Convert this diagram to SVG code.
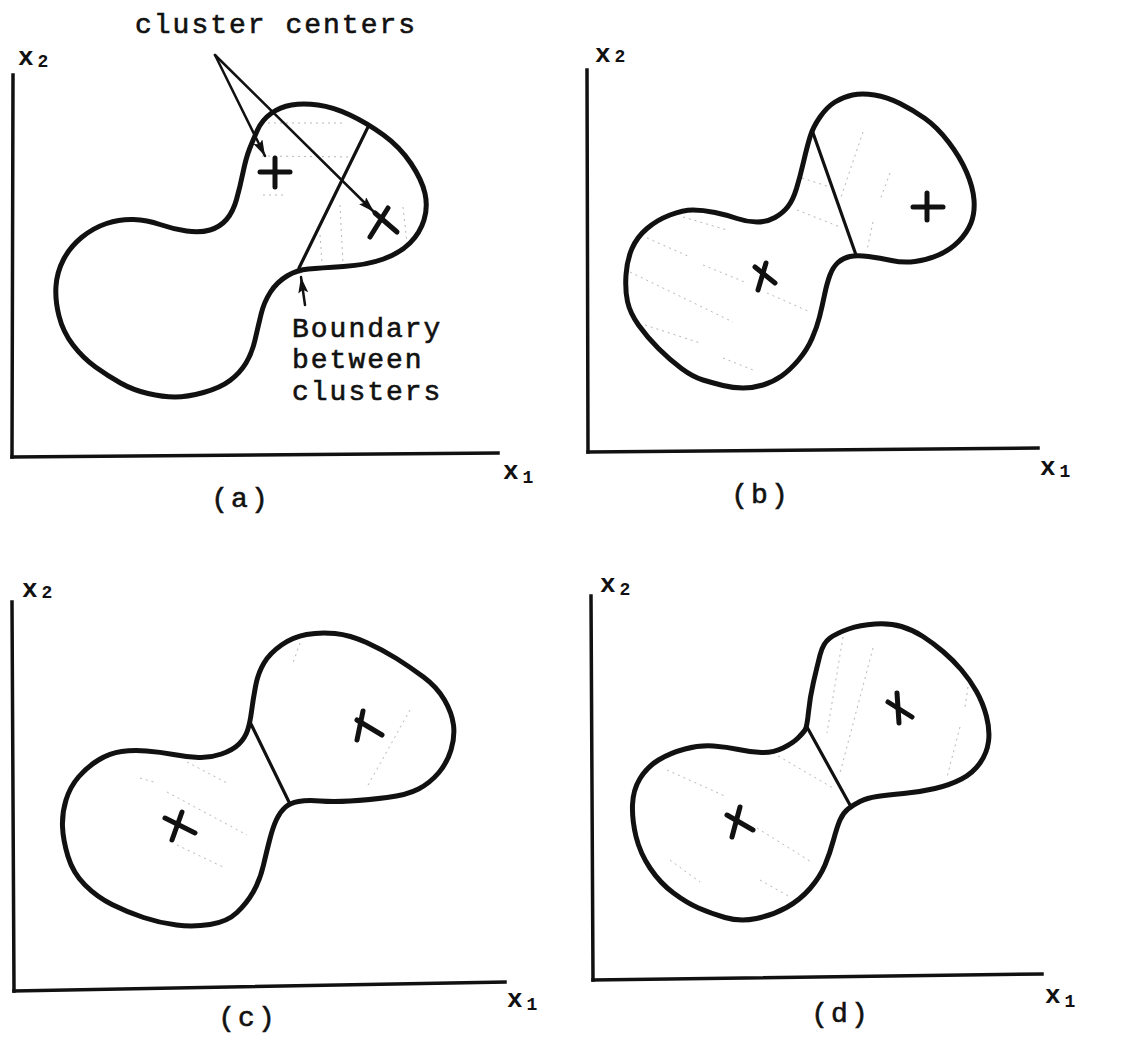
<svg xmlns="http://www.w3.org/2000/svg" width="1129" height="1037" viewBox="0 0 1129 1037">
<style>
  .bg{fill:#ffffff}
  .outline{fill:none;stroke:#111;stroke-width:5;stroke-linejoin:round;stroke-linecap:round}
  .axis{fill:none;stroke:#111;stroke-width:3.5;stroke-linecap:square}
  .bound{fill:none;stroke:#111;stroke-width:3.2;stroke-linecap:round}
  .mark{fill:none;stroke:#111;stroke-width:5;stroke-linecap:round}
  .hatch{fill:none;stroke:#9a9a9a;stroke-width:1;stroke-dasharray:2 4;opacity:0.7}
  .conn{fill:none;stroke:#111;stroke-width:2.5;stroke-linecap:round}
  .txt{font-family:"Liberation Mono","DejaVu Sans Mono",monospace;font-size:28px;letter-spacing:2px;fill:#111;stroke:#111;stroke-width:0.6}
  .ax{font-family:"Liberation Mono","DejaVu Sans Mono",monospace;font-size:26px;font-weight:bold;fill:#111}
  .sub{font-size:18px}
  .plabel{font-family:"Liberation Mono","DejaVu Sans Mono",monospace;font-size:28px;letter-spacing:3px;fill:#111;stroke:#111;stroke-width:0.6;text-anchor:middle}
</style>
<defs>
  <marker id="arr" markerUnits="userSpaceOnUse" markerWidth="18" markerHeight="12" refX="16" refY="5" orient="auto">
    <path d="M0,0 L16,5 L0,10 L3,5 Z" fill="#111"/>
  </marker>
</defs>
<rect class="bg" x="0" y="0" width="1129" height="1037"/>

<!-- Panel (a) -->
<g id="panel-a">
  <line class="axis" x1="13" y1="75" x2="12" y2="457"/>
  <line class="axis" x1="12" y1="457" x2="498" y2="453"/>
  <text class="ax" x="18" y="65">x<tspan class="sub" dx="4" dy="2">2</tspan></text>
  <text class="ax" x="503" y="479">x<tspan class="sub" dx="4" dy="4">1</tspan></text>
  <g class="hatch">
    <line x1="262" y1="123" x2="345" y2="123"/>
    <line x1="262" y1="156" x2="353" y2="157"/>
    <line x1="263" y1="195" x2="283" y2="195"/>
    <line x1="340" y1="205" x2="343" y2="263"/>
    <line x1="320" y1="235" x2="322" y2="263"/>
    <line x1="403" y1="207" x2="407" y2="243"/>
  </g>
  <path class="outline" d="M249.5,149 Q253,140 257.5,130 Q262,120 271,113.5 Q280,107 291.5,105 Q303,103 318,105 Q333,107 350,115 Q367,123 383.5,135 Q400,147 411,163.5 Q422,180 425,193.5 Q428,207 424,220 Q420,233 410,243 Q400,253 383.5,259 Q367,265 343.5,266.5 Q320,268 308.5,269 Q297,270 287,276 Q277,282 270.5,292 Q264,302 261,314.5 Q258,327 255,340 Q252,353 246,363 Q240,373 230,380.5 Q220,388 203.5,392.5 Q187,397 175,397 Q163,397 148,393.5 Q133,390 120.5,383 Q108,376 95.5,367 Q83,358 73,345 Q63,332 59,316 Q55,300 56,286 Q57,272 63.5,259.5 Q70,247 81.5,237.5 Q93,228 106.5,223.5 Q120,219 133.5,219.5 Q147,220 160,224.5 Q173,229 186.5,231 Q200,233 210,230 Q220,227 226.5,219.5 Q233,212 236.5,199.5 Q240,187 243,172.5 Q246,158 249.5,149 Z"/>
  <line class="bound" x1="368" y1="127" x2="299" y2="268"/>
  <line class="mark" x1="260" y1="172" x2="290" y2="172"/>
  <line class="mark" x1="275" y1="158" x2="275" y2="187"/>
  <line class="mark" x1="370" y1="237" x2="388" y2="208"/>
  <line class="mark" x1="375" y1="213" x2="397" y2="232"/>
  <text class="txt" x="135" y="33">cluster centers</text>
  <text class="txt" x="292" y="337">Boundary</text>
  <text class="txt" x="292" y="368">between</text>
  <text class="txt" x="292" y="400">clusters</text>
  <text class="plabel" x="241" y="507">(a)</text>
</g>

<!-- Panel (b) -->
<g id="panel-b">
  <line class="axis" x1="587" y1="70" x2="588" y2="452"/>
  <line class="axis" x1="588" y1="452" x2="1038" y2="448"/>
  <text class="ax" x="595" y="62">x<tspan class="sub" dx="4">2</tspan></text>
  <text class="ax" x="1040" y="475">x<tspan class="sub" dx="4" dy="2">1</tspan></text>
  <g class="hatch">
    <line x1="683" y1="217" x2="727" y2="230"/>
    <line x1="647" y1="238" x2="690" y2="257"/>
    <line x1="703" y1="265" x2="747" y2="283"/>
    <line x1="630" y1="272" x2="733" y2="322"/>
    <line x1="645" y1="325" x2="700" y2="343"/>
    <line x1="723" y1="358" x2="753" y2="370"/>
    <line x1="767" y1="293" x2="810" y2="312"/>
    <line x1="797" y1="210" x2="840" y2="227"/>
    <line x1="802" y1="178" x2="830" y2="187"/>
    <line x1="863" y1="132" x2="840" y2="200"/>
    <line x1="873" y1="222" x2="867" y2="250"/>
    <line x1="890" y1="173" x2="880" y2="200"/>
  </g>
  <path class="outline" d="M810,137 Q813,127 820,117 Q827,107 835,102 Q843,97 852.5,95 Q862,93 874.5,95 Q887,97 900,103.5 Q913,110 925,118.5 Q937,127 948.5,142 Q960,157 966.5,172 Q973,187 974,200 Q975,213 971,223 Q967,233 958.5,241.5 Q950,250 938.5,255 Q927,260 915,261.5 Q903,263 891.5,260.5 Q880,258 868.5,256.5 Q857,255 850,256.5 Q843,258 838,262.5 Q833,267 830,275 Q827,283 824.5,295 Q822,307 819.5,317 Q817,327 812,338.5 Q807,350 798.5,360 Q790,370 781.5,376 Q773,382 763,385 Q753,388 743,388 Q733,388 723,385.5 Q713,383 703,380 Q693,377 681.5,368.5 Q670,360 658.5,348.5 Q647,337 638.5,325 Q630,313 627.5,301.5 Q625,290 626,275 Q627,260 632,248.5 Q637,237 647,228.5 Q657,220 670,215 Q683,210 693,210 Q703,210 715,212.5 Q727,215 737,218.5 Q747,222 757,222 Q767,222 775,217.5 Q783,213 788,206.5 Q793,200 796.5,188.5 Q800,177 803.5,162 Q807,147 810,137 Z"/>
  <line class="bound" x1="812" y1="130" x2="856" y2="255"/>
  <line class="mark" x1="913" y1="207" x2="943" y2="207"/>
  <line class="mark" x1="927" y1="193" x2="927" y2="220"/>
  <line class="mark" x1="758" y1="290" x2="766" y2="263"/>
  <line class="mark" x1="755" y1="267" x2="775" y2="283"/>
  <text class="plabel" x="761" y="503">(b)</text>
</g>

<!-- Panel (c) -->
<g id="panel-c">
  <line class="axis" x1="12" y1="602" x2="14" y2="991"/>
  <line class="axis" x1="14" y1="991" x2="505" y2="982"/>
  <text class="ax" x="22" y="597">x<tspan class="sub" dx="4" dy="1">2</tspan></text>
  <text class="ax" x="507" y="1007">x<tspan class="sub" dx="4" dy="3">1</tspan></text>
  <g class="hatch">
    <line x1="140" y1="778" x2="157" y2="783"/>
    <line x1="187" y1="762" x2="227" y2="783"/>
    <line x1="167" y1="792" x2="247" y2="835"/>
    <line x1="177" y1="845" x2="223" y2="867"/>
    <line x1="300" y1="643" x2="293" y2="663"/>
    <line x1="410" y1="710" x2="367" y2="787"/>
  </g>
  <path class="outline" d="M247.5,730.5 Q250,723 251.5,711.5 Q253,700 255.5,686.5 Q258,673 264,663 Q270,653 281.5,645 Q293,637 306.5,634.5 Q320,632 335,633.5 Q350,635 366.5,642.5 Q383,650 396.5,658.5 Q410,667 423.5,677 Q437,687 444.5,700 Q452,713 453.5,725 Q455,737 451,750 Q447,763 438.5,773 Q430,783 418.5,789 Q407,795 387,797.5 Q367,800 350,801 Q333,802 320,801 Q307,800 298.5,801.5 Q290,803 285,807.5 Q280,812 276.5,819.5 Q273,827 270,838.5 Q267,850 263.5,865 Q260,880 253.5,891.5 Q247,903 237,912.5 Q227,922 210,924.5 Q193,927 176.5,925 Q160,923 143.5,917.5 Q127,912 112,904.5 Q97,897 85,885 Q73,873 68,856.5 Q63,840 62.5,826.5 Q62,813 66,800 Q70,787 78.5,777 Q87,767 98.5,760 Q110,753 121.5,751.5 Q133,750 146.5,751 Q160,752 173.5,754.5 Q187,757 198.5,757.5 Q210,758 221.5,754 Q233,750 239,744 Q245,738 247.5,730.5 Z"/>
  <line class="bound" x1="251" y1="724" x2="289" y2="802"/>
  <line class="mark" x1="357" y1="740" x2="363" y2="711"/>
  <line class="mark" x1="357" y1="720" x2="382" y2="735"/>
  <line class="mark" x1="172" y1="840" x2="182" y2="812"/>
  <line class="mark" x1="165" y1="818" x2="195" y2="833"/>
  <text class="plabel" x="248" y="1026">(c)</text>
</g>

<!-- Panel (d) -->
<g id="panel-d">
  <line class="axis" x1="591" y1="596" x2="593" y2="980"/>
  <line class="axis" x1="593" y1="980" x2="1042" y2="974"/>
  <text class="ax" x="600" y="592">x<tspan class="sub" dx="4" dy="3">2</tspan></text>
  <text class="ax" x="1045" y="1003">x<tspan class="sub" dx="4" dy="4">1</tspan></text>
  <g class="hatch">
    <line x1="667" y1="770" x2="727" y2="797"/>
    <line x1="773" y1="753" x2="833" y2="788"/>
    <line x1="757" y1="828" x2="813" y2="863"/>
    <line x1="670" y1="860" x2="700" y2="882"/>
    <line x1="760" y1="880" x2="790" y2="897"/>
    <line x1="843" y1="637" x2="827" y2="733"/>
    <line x1="873" y1="648" x2="840" y2="773"/>
    <line x1="968" y1="687" x2="965" y2="707"/>
    <line x1="960" y1="727" x2="947" y2="777"/>
  </g>
  <path class="outline" d="M805,730 Q807,727 808.5,712 Q810,697 813.5,682 Q817,667 820,655 Q823,643 830,638 Q837,633 848.5,629 Q860,625 875,624 Q890,623 901.5,626.5 Q913,630 923,636.5 Q933,643 943,651.5 Q953,660 961.5,670 Q970,680 976.5,691.5 Q983,703 986.5,716.5 Q990,730 988.5,741.5 Q987,753 980,763 Q973,773 961.5,779 Q950,785 935,788.5 Q920,792 903.5,793.5 Q887,795 877,796.5 Q867,798 860,801.5 Q853,805 848,809 Q843,813 840,820 Q837,827 833.5,840 Q830,853 825,865 Q820,877 810,888.5 Q800,900 786.5,907.5 Q773,915 756.5,918.5 Q740,922 725,917.5 Q710,913 698.5,908 Q687,903 673.5,893 Q660,883 650,868 Q640,853 636,836.5 Q632,820 632.5,805 Q633,790 640,778.5 Q647,767 658.5,760 Q670,753 685,749 Q700,745 713.5,746 Q727,747 738.5,749.5 Q750,752 761.5,752.5 Q773,753 783,748 Q793,743 798,738 Q803,733 805,730 Z"/>
  <line class="bound" x1="807" y1="727" x2="850" y2="805"/>
  <line class="mark" x1="897" y1="693" x2="899" y2="723"/>
  <line class="mark" x1="888" y1="702" x2="912" y2="717"/>
  <line class="mark" x1="740" y1="807" x2="732" y2="837"/>
  <line class="mark" x1="727" y1="815" x2="753" y2="830"/>
  <text class="plabel" x="841" y="1022">(d)</text>
</g>

<!-- Connectors (annotation arrows in panel a) -->
<g id="connectors">
  <line class="conn" x1="215" y1="55" x2="265" y2="156" marker-end="url(#arr)"/>
  <line class="conn" x1="215" y1="55" x2="374" y2="212" marker-end="url(#arr)"/>
  <line class="conn" x1="305" y1="305" x2="301" y2="277" marker-end="url(#arr)"/>
</g>
</svg>
